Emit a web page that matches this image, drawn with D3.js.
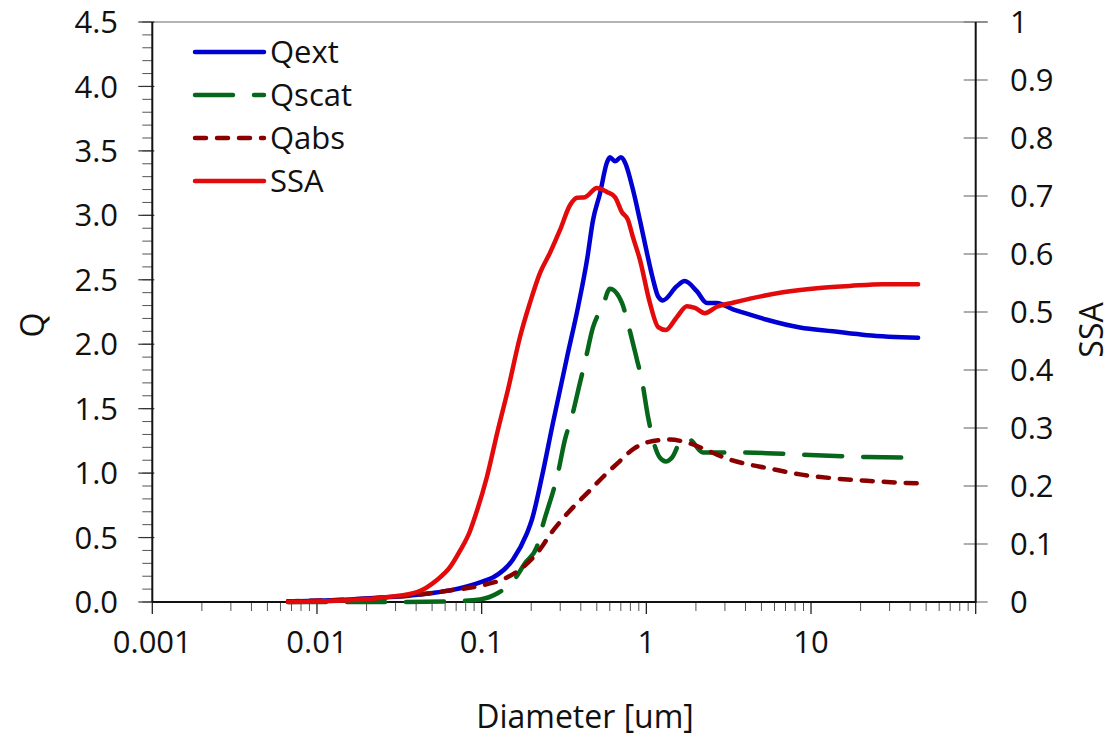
<!DOCTYPE html>
<html>
<head>
<meta charset="utf-8">
<script src="https://cdn.jsdelivr.net/npm/d3@7"></script>
<style>
  html, body { margin: 0; padding: 0; background: #fff; }
  svg { display: block; font-family: "Open Sans", "Noto Sans", sans-serif; }
</style>
</head>
<body>
<svg id="chart" width="1120" height="738"></svg>
<script>
// Mie efficiencies versus particle diameter: [diameter (um), value]
const qext = [
  [0.00667, 0.005], [0.0159, 0.02], [0.0252, 0.035], [0.0367, 0.05], [0.0506, 0.07],
  [0.0642, 0.09], [0.0815, 0.12], [0.1018, 0.16], [0.117, 0.19], [0.155, 0.33],
  [0.188, 0.53], [0.202, 0.64], [0.232, 0.97], [0.271, 1.39], [0.330, 1.90],
  [0.385, 2.29], [0.437, 2.66], [0.474, 2.96], [0.523, 3.17], [0.5765, 3.41],
  [0.601, 3.45], [0.645, 3.42], [0.701, 3.45], [0.742, 3.41], [0.829, 3.20],
  [0.915, 2.96], [1.008, 2.71], [1.09, 2.52], [1.18, 2.37], [1.26, 2.34],
  [1.53, 2.45], [1.71, 2.49], [2.03, 2.41], [2.33, 2.32], [2.68, 2.32],
  [3.36, 2.27], [4.26, 2.23], [5.40, 2.19], [8.57, 2.13], [13.6, 2.10],
  [21.9, 2.07], [44.7, 2.05]
];
const qscat = [
  [0.00667, 0.0], [0.0319, 0.0], [0.0642, 0.005], [0.0977, 0.02], [0.1256, 0.07],
  [0.155, 0.16], [0.1832, 0.30], [0.2167, 0.43], [0.2356, 0.60], [0.2905, 1.00],
  [0.3205, 1.26], [0.3535, 1.44], [0.3952, 1.70], [0.4238, 1.86], [0.474, 2.13],
  [0.5452, 2.30], [0.6012, 2.43], [0.7111, 2.32], [0.7731, 2.16], [0.8768, 1.88],
  [0.940, 1.72], [1.0226, 1.44], [1.097, 1.26], [1.209, 1.12], [1.315, 1.09],
  [1.430, 1.12], [1.668, 1.27], [1.839, 1.26], [2.207, 1.16], [2.537, 1.16],
  [3.36, 1.16], [5.40, 1.155], [9.85, 1.14], [21.9, 1.125], [44.7, 1.12]
];
const qabs = [
  [0.00667, 0.005], [0.0159, 0.02], [0.0252, 0.035], [0.0367, 0.05], [0.0642, 0.09],
  [0.1018, 0.13], [0.1424, 0.19], [0.1782, 0.27], [0.2356, 0.44], [0.2527, 0.50],
  [0.2987, 0.62], [0.3686, 0.75], [0.4419, 0.85], [0.5452, 0.97], [0.6725, 1.08],
  [0.8409, 1.19], [1.0226, 1.24], [1.391, 1.26], [1.839, 1.23], [2.502, 1.16],
  [3.129, 1.11], [4.082, 1.07], [5.40, 1.04], [8.57, 0.99], [13.6, 0.96],
  [21.9, 0.94], [44.7, 0.92]
];
// Single scattering albedo (right axis)
const ssa = [
  [0.00667, 0.0], [0.0159, 0.003], [0.0277, 0.009], [0.0405, 0.017], [0.0535, 0.038],
  [0.0642, 0.060], [0.0738, 0.088], [0.0849, 0.122], [0.0911, 0.147], [0.1077, 0.216],
  [0.1256, 0.297], [0.1444, 0.366], [0.1709, 0.457], [0.1965, 0.516], [0.2259, 0.567],
  [0.2599, 0.602], [0.2987, 0.641], [0.3437, 0.684], [0.379, 0.697], [0.4238, 0.698],
  [0.5013, 0.714], [0.5765, 0.707], [0.645, 0.698], [0.711, 0.672], [0.7731, 0.659],
  [0.8291, 0.629], [0.9146, 0.590], [1.05, 0.516], [1.18, 0.474], [1.315, 0.469],
  [1.53, 0.491], [1.764, 0.510], [1.973, 0.507], [2.269, 0.498], [2.68, 0.509],
  [3.36, 0.516], [4.26, 0.523], [6.75, 0.534], [10.86, 0.541], [17.2, 0.545],
  [27.3, 0.548], [44.7, 0.548]
];

const xTickValues = [0.001, 0.01, 0.1, 1, 10];
const xTickLabels = ["0.001", "0.01", "0.1", "1", "10"];
const qTickValues = d3.range(0, 4.51, 0.5);
const ssaTickValues = d3.range(0, 1.001, 0.1);
const ssaTickLabels = ["0", "0.1", "0.2", "0.3", "0.4", "0.5", "0.6", "0.7", "0.8", "0.9", "1"];

const seriesNames = ["Qext", "Qscat", "Qabs", "SSA"];

(function draw() {
  const svg = d3.select("#chart");
  const pLeft = 152.3, pRight = 975.7, pTop = 22, pBottom = 602;

  const x = d3.scaleLog().domain([0.001, 100]).range([pLeft, pRight]);
  const yQ = d3.scaleLinear().domain([0, 4.5]).range([pBottom, pTop]);
  const ySSA = d3.scaleLinear().domain([0, 1]).range([pBottom, pTop]);

  const FS = 31;
  const LW = 4.5;

  // Plot frame (top edge)
  svg.append("line")
    .attr("x1", pLeft).attr("x2", pRight + 12).attr("y1", pTop).attr("y2", pTop)
    .attr("stroke", "#9a9a9a").attr("stroke-width", 1.5);

  // Left Q axis: minor ticks every 0.1, labelled majors every 0.5
  const gLeft = svg.append("g");
  gLeft.selectAll("line.minor").data(d3.range(0, 45.1, 1).map(v => v / 10))
    .join("line").attr("class", "minor")
    .attr("x1", pLeft - 10).attr("x2", pLeft)
    .attr("y1", d => yQ(d)).attr("y2", d => yQ(d))
    .attr("stroke", "#555").attr("stroke-width", 1);
  gLeft.selectAll("line.major").data(qTickValues)
    .join("line").attr("class", "major")
    .attr("x1", pLeft - 14).attr("x2", pLeft + 2)
    .attr("y1", d => yQ(d)).attr("y2", d => yQ(d))
    .attr("stroke", "#333").attr("stroke-width", 1.2);
  gLeft.selectAll("text").data(qTickValues)
    .join("text")
    .attr("x", 118).attr("y", d => yQ(d))
    .attr("dy", "0.36em")
    .attr("text-anchor", "end")
    .attr("font-size", FS).attr("fill", "#111")
    .text(d => d3.format(".1f")(d));
  svg.append("line")
    .attr("x1", pLeft).attr("x2", pLeft).attr("y1", pTop).attr("y2", pBottom)
    .attr("stroke", "#111").attr("stroke-width", 2);

  // Right SSA axis with cross ticks
  const gRight = svg.append("g");
  gRight.selectAll("line").data(ssaTickValues)
    .join("line")
    .attr("x1", pRight - 12).attr("x2", pRight + 12)
    .attr("y1", d => ySSA(d)).attr("y2", d => ySSA(d))
    .attr("stroke", "#777").attr("stroke-width", 1.2);
  gRight.selectAll("text").data(ssaTickValues)
    .join("text")
    .attr("x", 1010).attr("y", d => ySSA(d))
    .attr("dy", "0.36em")
    .attr("text-anchor", "start")
    .attr("font-size", FS).attr("fill", "#111")
    .text((d, i) => ssaTickLabels[i]);
  svg.append("line")
    .attr("x1", pRight).attr("x2", pRight).attr("y1", pTop).attr("y2", pBottom + 1)
    .attr("stroke", "#111").attr("stroke-width", 2);

  // Bottom log axis
  const minorX = [];
  for (let e = -3; e < 2; e++) {
    for (let m = 2; m <= 9; m++) minorX.push(m * Math.pow(10, e));
  }
  const gBottom = svg.append("g");
  gBottom.selectAll("line.minor").data(minorX)
    .join("line").attr("class", "minor")
    .attr("x1", d => x(d)).attr("x2", d => x(d))
    .attr("y1", pBottom).attr("y2", pBottom + 9)
    .attr("stroke", "#555").attr("stroke-width", 1);
  gBottom.selectAll("line.major").data(xTickValues.concat([100]))
    .join("line").attr("class", "major")
    .attr("x1", d => x(d)).attr("x2", d => x(d))
    .attr("y1", pBottom).attr("y2", pBottom + 12)
    .attr("stroke", "#222").attr("stroke-width", 1.3);
  gBottom.selectAll("text").data(xTickValues)
    .join("text")
    .attr("x", d => x(d)).attr("y", 653)
    .attr("text-anchor", "middle")
    .attr("font-size", FS).attr("fill", "#111")
    .text((d, i) => xTickLabels[i]);
  svg.append("line")
    .attr("x1", pLeft).attr("x2", pRight).attr("y1", pBottom).attr("y2", pBottom)
    .attr("stroke", "#111").attr("stroke-width", 2);

  // Axis titles
  svg.append("text")
    .attr("x", 585).attr("y", 728)
    .attr("text-anchor", "middle").attr("font-size", FS + 1).attr("fill", "#111")
    .text("Diameter [um]");
  svg.append("text")
    .attr("transform", "translate(44,325) rotate(-90)")
    .attr("text-anchor", "middle").attr("font-size", FS + 1).attr("fill", "#111")
    .text("Q");
  svg.append("text")
    .attr("transform", "translate(1103,330) rotate(-90)")
    .attr("text-anchor", "middle").attr("font-size", FS + 1).attr("fill", "#111")
    .text("SSA");

  // Series
  const styles = {
    Qext:  { color: "#0000d2", dash: null,    scale: yQ,   data: qext },
    Qscat: { color: "#06661a", dash: "38,21", scale: yQ,   data: qscat },
    Qabs:  { color: "#8a0000", dash: "11,11", scale: yQ,   data: qabs },
    SSA:   { color: "#e20a0a", dash: null,    scale: ySSA, data: ssa }
  };

  const gLines = svg.append("g");
  seriesNames.forEach(name => {
    const s = styles[name];
    const line = d3.line()
      .x(d => x(d[0]))
      .y(d => s.scale(d[1]))
      .curve(d3.curveMonotoneX);
    gLines.append("path")
      .datum(s.data)
      .attr("d", line)
      .attr("fill", "none")
      .attr("stroke", s.color)
      .attr("stroke-width", LW)
      .attr("stroke-linecap", "round")
      .attr("stroke-linejoin", "round")
      .attr("stroke-dasharray", s.dash);
  });

  // Legend
  const legend = svg.append("g");
  const legendY = d3.scalePoint().domain(seriesNames).range([52, 181]);
  seriesNames.forEach(name => {
    const s = styles[name];
    const yy = legendY(name);
    legend.append("line")
      .attr("x1", 195).attr("x2", 264).attr("y1", yy).attr("y2", yy)
      .attr("stroke", s.color).attr("stroke-width", LW)
      .attr("stroke-linecap", "round")
      .attr("stroke-dasharray", s.dash);
    legend.append("text")
      .attr("x", 270).attr("y", yy).attr("dy", "0.36em")
      .attr("font-size", FS).attr("fill", "#111")
      .text(name);
  });
})();
</script>
</body>
</html>
